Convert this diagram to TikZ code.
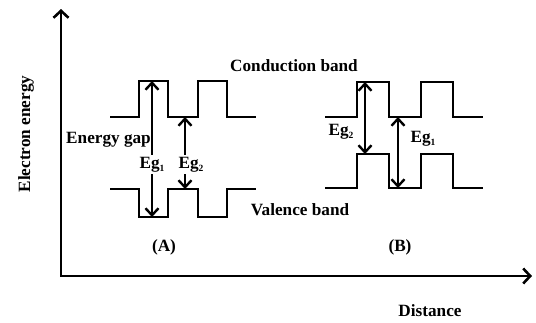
\documentclass[tikz,border=0pt]{standalone}
\usepackage{fontspec}
\setmainfont{Liberation Serif}
\usetikzlibrary{arrows.meta}
% energy-gap label: "Eg" with a small lowered index
\newcommand\egsub[1]{Eg\raisebox{-0.45ex}{\fontsize{9.5}{9.5}\selectfont #1}}
\begin{document}
\begin{tikzpicture}[x=1pt,y=-1pt,
  every node/.style={font=\fontsize{17.2}{19}\selectfont\bfseries, inner sep=0pt},
  band/.style={line width=2.6pt, line join=miter},
  barb/.tip={Straight Barb[length=7pt,width=13pt]},
  gaparrow/.style={line width=2.4pt, barb-barb},
  axes/.style={line width=2.6pt, line join=miter,
    {Straight Barb[length=7pt,width=15pt]}-{Straight Barb[length=7pt,width=15pt]}},
  lbl/.style={anchor=base},
  eglbl/.style={anchor=base, fill=white, inner xsep=1pt, inner ysep=2pt}]
\useasboundingbox (0,0) rectangle (536,322);

% axes
\coordinate (O) at (61,276);
\coordinate (ytip) at (61,9);
\coordinate (xtip) at (532,276);
\draw[axes] (ytip) -- (O) -- (xtip);
\node[rotate=90] (ylab) at (26,134) {Electron energy};
\node[lbl] (xlab) at (430,316) {Distance};

% ---- structure (A) ----
\coordinate (a1) at (152,81);
\coordinate (a2) at (152,217);
\coordinate (a3) at (185,117);
\coordinate (a4) at (185,189);
\draw[band] (110,117) -- (139,117) -- (139,81) -- (168,81) -- (168,117)
  -- (198,117) -- (198,81) -- (227,81) -- (227,117) -- (256,117);
\draw[band] (110,189) -- (139,189) -- (139,217) -- (168,217) -- (168,189)
  -- (198,189) -- (198,217) -- (227,217) -- (227,189) -- (256,189);
\draw[gaparrow] (a1) -- (a2);
\draw[gaparrow] (a3) -- (a4);
\node[eglbl] (egA1) at (152,168) {\egsub{1}};
\node[eglbl] (egA2) at (191,168) {\egsub{2}};
\node[lbl, anchor=base east] (gap) at (151,143) {Energy gap};
\node[lbl] (labA) at (164,251) {(A)};

% ---- structure (B) ----
\coordinate (b1) at (365,82);
\coordinate (b2) at (365,154);
\coordinate (b3) at (398,117);
\coordinate (b4) at (398,188);
\draw[band] (325,117) -- (357,117) -- (357,82) -- (389,82) -- (389,117)
  -- (421,117) -- (421,82) -- (453,82) -- (453,117) -- (483,117);
\draw[band] (325,188) -- (357,188) -- (357,154) -- (389,154) -- (389,188)
  -- (421,188) -- (421,154) -- (453,154) -- (453,188) -- (483,188);
\draw[gaparrow] (b1) -- (b2);
\draw[gaparrow] (b3) -- (b4);
\node[lbl] (egB2) at (341,135) {\egsub{2}};
\node[lbl] (egB1) at (423,142) {\egsub{1}};
\node[lbl] (labB) at (400,251) {(B)};

% band names
\node[lbl] (cond) at (294,71) {Conduction band};
\node[lbl] (val) at (300,215) {Valence band};
\end{tikzpicture}
\end{document}
